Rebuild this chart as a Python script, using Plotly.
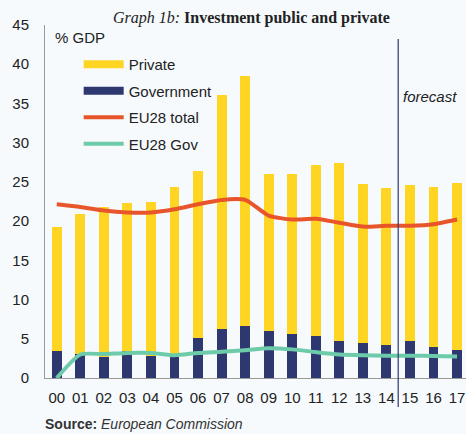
import plotly.graph_objects as go

# Dati (% del PIL)
anni = ["00", "01", "02", "03", "04", "05", "06", "07", "08", "09",
        "10", "11", "12", "13", "14", "15", "16", "17"]
governo = [3.4, 3.0, 2.7, 3.5, 2.8, 2.7, 5.1, 6.25, 6.6, 6.0,
           5.65, 5.4, 4.75, 4.5, 4.25, 4.75, 4.0, 3.6]
privato = [15.9, 17.9, 19.1, 18.8, 19.6, 21.7, 21.3, 29.85, 31.9, 20.0,
           20.35, 21.7, 22.65, 20.2, 19.95, 19.85, 20.4, 21.3]
eu28_totale = [22.15, 21.8, 21.35, 21.1, 21.1, 21.5, 22.15, 22.7, 22.7, 20.7,
               20.2, 20.3, 19.8, 19.3, 19.4, 19.4, 19.6, 20.2]
eu28_gov = [0.0, 3.0, 3.05, 3.2, 3.2, 2.9, 3.2, 3.35, 3.55, 3.8,
            3.65, 3.3, 3.0, 2.9, 2.85, 2.85, 2.8, 2.75]

GIALLO = "#FDD522"
BLU = "#2E3870"
ARANCIO = "#E8552A"
VERDE = "#6ECBA9"
SFONDO = "#F6FAFD"
FONT = "Liberation Sans, Arial, sans-serif"

fig = go.Figure()

# Barre impilate: governo sotto, privato sopra
fig.add_trace(go.Bar(x=anni, y=governo, name="Government", marker_color=BLU,
                     marker_line_width=0, showlegend=False))
fig.add_trace(go.Bar(x=anni, y=privato, name="Private", marker_color=GIALLO,
                     marker_line_width=0, showlegend=False))

# Voci di legenda (rettangoli larghi come nell'originale)
fig.add_trace(go.Scatter(x=[None], y=[None], mode="lines", name="Private",
                         line=dict(color=GIALLO, width=8), legendgroup="a"))
fig.add_trace(go.Scatter(x=[None], y=[None], mode="lines", name="Government",
                         line=dict(color=BLU, width=8), legendgroup="b"))

# Linee EU28
fig.add_trace(go.Scatter(x=anni, y=eu28_totale, mode="lines", name="EU28 total",
                         line=dict(color=ARANCIO, width=4, shape="spline", smoothing=0.6),
                         legendgroup="c"))
fig.add_trace(go.Scatter(x=anni, y=eu28_gov, mode="lines", name="EU28 Gov",
                         line=dict(color=VERDE, width=4, shape="spline", smoothing=0.6),
                         legendgroup="d"))

# Linea verticale della previsione
fig.add_shape(type="line", xref="x", yref="paper", x0=14.5, x1=14.5,
              y0=-0.082, y1=0.96, line=dict(color="#2E3870", width=1.2))

fig.add_annotation(text="<i>forecast</i>", xref="x", yref="paper", x=14.5, y=0.827,
                   xanchor="left", xshift=3, showarrow=False,
                   font=dict(family=FONT, size=15, color="#222"))
fig.add_annotation(text="% GDP", xref="paper", yref="paper", x=0.019, y=0.966,
                   xanchor="left", yanchor="middle", showarrow=False,
                   font=dict(family=FONT, size=15, color="#222"))
fig.add_annotation(text="<i>Graph 1b:</i> <b>Investment public and private</b>",
                   xref="paper", yref="paper", x=0.49, y=1.0, yshift=-4,
                   xanchor="center", yanchor="bottom", showarrow=False,
                   font=dict(family="Liberation Serif, Times New Roman, serif", size=16, color="#222"))
fig.add_annotation(text="<b>Source:</b> <i>European Commission</i>",
                   xref="paper", yref="paper", x=-0.005, y=-0.13,
                   xanchor="left", yanchor="middle", showarrow=False,
                   font=dict(family=FONT, size=14, color="#333"))

fig.update_layout(
    width=466, height=434,
    margin=dict(l=45, r=0, t=25, b=56),
    barmode="stack",
    bargap=0.58,
    paper_bgcolor=SFONDO,
    plot_bgcolor=SFONDO,
    font=dict(family=FONT, size=15, color="#222"),
    legend=dict(x=0.08, y=0.935, xanchor="left", yanchor="top",
                bgcolor="rgba(0,0,0,0)", traceorder="grouped",
                tracegroupgap=4, itemwidth=40,
                font=dict(family=FONT, size=15, color="#222")),
    xaxis=dict(range=[-0.5, 17.38], showline=True, linecolor="#999", linewidth=1,
               showgrid=False, ticks="", tickfont=dict(size=15), ticklabelstandoff=6),
    yaxis=dict(range=[0, 45], dtick=5, showline=True, linecolor="#999", linewidth=1,
               showgrid=False, zeroline=False, ticks="", tickfont=dict(size=15),
               ticklabelstandoff=12),
)

fig.write_html("out.html", config={"displayModeBar": False},
               post_script="document.body.style.margin='0';")
